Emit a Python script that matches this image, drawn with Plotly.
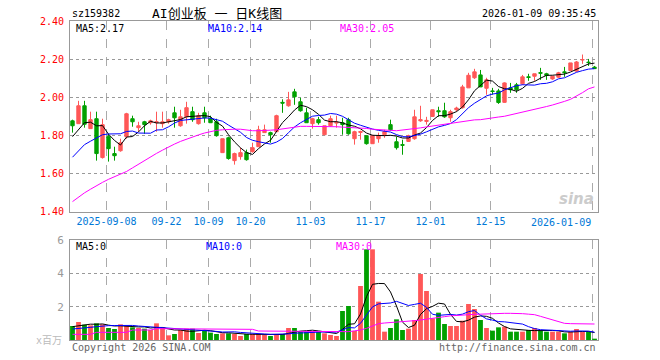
import numpy as np
import pandas as pd
import plotly.graph_objects as go

# ---------------- data ----------------
dates = (["2025-08-29"]
         + ["2025-09-%02d" % d for d in [1, 2, 3, 4, 5, 8, 9, 10, 11, 12, 15, 16, 17, 18, 19,
                                           22, 23, 24, 25, 26, 29, 30]]
         + ["2025-10-%02d" % d for d in [9, 10, 13, 14, 15, 16, 17, 20, 21, 22, 23, 24,
                                           27, 28, 29, 30, 31]]
         + ["2025-11-%02d" % d for d in [3, 4, 5, 6, 7, 10, 11, 12, 13, 14, 17, 18, 19, 20, 21,
                                           24, 25, 26, 27, 28]]
         + ["2025-12-%02d" % d for d in [1, 2, 3, 4, 5, 8, 9, 10, 11, 12, 15, 16, 17, 18, 19,
                                           22, 23, 24, 25, 26, 29, 30, 31]]
         + ["2026-01-%02d" % d for d in [5, 6, 7, 8, 9]])

open_ = [1.876, 1.861, 1.955, 1.835, 1.887, 1.683, 1.793, 1.704, 1.719, 1.793,
         1.887, 1.840, 1.871, 1.866, 1.866, 1.861, 1.871, 1.918, 1.850, 1.897,
         1.924, 1.861, 1.918, 1.887, 1.871, 1.709, 1.787, 1.667, 1.688, 1.709,
         1.714, 1.740, 1.814, 1.814, 1.819, 1.973, 1.955, 2.028, 1.976, 1.918,
         1.861, 1.882, 1.803, 1.850, 1.864, 1.866, 1.882, 1.782, 1.815, 1.798,
         1.756, 1.782, 1.803, 1.856, 1.766, 1.751, 1.768, 1.782, 1.876, 1.873,
         1.899, 1.929, 1.929, 1.892, 1.934, 1.945, 2.049, 2.102, 2.117, 2.047,
         2.033, 2.033, 1.973, 2.049, 2.065, 2.070, 2.107, 2.110, 2.129, 2.123,
         2.096, 2.105, 2.133, 2.140, 2.137, 2.196, 2.184, 2.158]
high = [1.882, 1.981, 1.981, 1.924, 1.924, 1.887, 1.808, 1.740, 1.782, 1.918,
        1.903, 1.871, 1.876, 1.882, 1.924, 1.924, 1.887, 1.950, 1.934, 1.976,
        1.950, 1.918, 1.950, 1.903, 1.887, 1.782, 1.793, 1.709, 1.735, 1.725,
        1.761, 1.850, 1.856, 1.819, 1.908, 1.989, 2.028, 2.044, 1.997, 1.945,
        1.892, 1.897, 1.850, 1.903, 1.903, 1.892, 1.892, 1.824, 1.824, 1.798,
        1.803, 1.814, 1.829, 1.882, 1.793, 1.777, 1.803, 1.934, 1.955, 1.897,
        1.934, 1.950, 1.971, 1.934, 1.950, 2.065, 2.128, 2.149, 2.143, 2.102,
        2.049, 2.044, 2.078, 2.075, 2.075, 2.117, 2.123, 2.123, 2.154, 2.128,
        2.112, 2.133, 2.159, 2.180, 2.190, 2.224, 2.201, 2.164]
low = [1.814, 1.861, 1.840, 1.835, 1.667, 1.678, 1.662, 1.667, 1.714, 1.782,
       1.845, 1.819, 1.808, 1.856, 1.819, 1.840, 1.861, 1.840, 1.845, 1.861,
       1.871, 1.856, 1.866, 1.866, 1.793, 1.709, 1.672, 1.646, 1.672, 1.667,
       1.709, 1.740, 1.814, 1.761, 1.819, 1.918, 1.950, 1.960, 1.924, 1.866,
       1.835, 1.856, 1.803, 1.845, 1.840, 1.803, 1.803, 1.751, 1.777, 1.751,
       1.756, 1.761, 1.787, 1.824, 1.725, 1.698, 1.766, 1.777, 1.871, 1.856,
       1.897, 1.897, 1.892, 1.871, 1.924, 1.940, 2.049, 2.096, 2.054, 2.013,
       2.013, 1.965, 1.971, 2.023, 2.023, 2.065, 2.086, 2.086, 2.091, 2.091,
       2.091, 2.102, 2.107, 2.138, 2.133, 2.175, 2.164, 2.149]
close = [1.850, 1.955, 1.858, 1.882, 1.704, 1.856, 1.730, 1.693, 1.761, 1.913,
         1.871, 1.850, 1.856, 1.876, 1.871, 1.871, 1.882, 1.892, 1.897, 1.945,
         1.882, 1.903, 1.892, 1.866, 1.798, 1.782, 1.678, 1.704, 1.709, 1.672,
         1.735, 1.829, 1.829, 1.803, 1.903, 1.969, 1.986, 2.002, 1.929, 1.866,
         1.887, 1.866, 1.850, 1.887, 1.868, 1.856, 1.808, 1.819, 1.820, 1.756,
         1.798, 1.798, 1.819, 1.829, 1.735, 1.748, 1.798, 1.897, 1.882, 1.878,
         1.934, 1.924, 1.897, 1.924, 1.943, 2.054, 2.115, 2.133, 2.054, 2.091,
         2.030, 1.972, 2.075, 2.039, 2.039, 2.107, 2.104, 2.123, 2.126, 2.114,
         2.110, 2.128, 2.129, 2.180, 2.185, 2.197, 2.182, 2.150]

# volume, millions
volume = [0.84, 1.08, 0.92, 0.88, 1.00, 0.94, 0.72, 0.66, 0.94, 0.84,
          0.76, 0.72, 0.68, 0.60, 1.00, 0.76, 0.28, 0.36, 0.60, 0.68,
          0.68, 0.42, 0.56, 0.44, 0.36, 0.40, 0.40, 0.36, 0.24, 0.36,
          0.36, 0.36, 0.32, 0.24, 0.36, 0.36, 0.72, 0.72, 0.50, 0.50,
          0.50, 0.50, 0.40, 0.30, 0.24, 1.74, 2.04, 0.54, 3.24, 5.44,
          5.44, 2.30, 0.50, 0.72, 1.24, 0.60, 0.68, 1.20, 3.96, 2.94,
          1.30, 1.64, 0.96, 0.84, 0.84, 1.16, 2.16, 1.86, 1.20, 0.72,
          0.56, 0.76, 0.80, 0.50, 0.50, 0.50, 0.60, 0.72, 0.54, 0.50,
          0.50, 0.50, 0.40, 0.50, 0.66, 0.50, 0.50, 0.08]

ma5_lead = [1.793, 1.829, 1.866, 1.869]
ma10_lead = [1.685, 1.717, 1.751, 1.769, 1.788, 1.803, 1.807, 1.808, 1.808]
ma30 = [1.452, 1.476, 1.498, 1.517, 1.536, 1.553, 1.569, 1.583, 1.599, 1.610,
        1.629, 1.649, 1.667, 1.686, 1.705, 1.722, 1.739, 1.754, 1.768, 1.780,
        1.793, 1.802, 1.812, 1.821, 1.826, 1.829, 1.832, 1.832, 1.832, 1.827,
        1.824, 1.824, 1.824, 1.827, 1.829, 1.833, 1.837, 1.843, 1.847, 1.847,
        1.847, 1.847, 1.847, 1.847, 1.845, 1.843, 1.842, 1.841, 1.839, 1.836,
        1.832, 1.829, 1.827, 1.826, 1.824, 1.827, 1.832, 1.835, 1.839, 1.844,
        1.849, 1.855, 1.859, 1.864, 1.870, 1.874, 1.879, 1.881, 1.882, 1.888,
        1.893, 1.896, 1.900, 1.907, 1.913, 1.920, 1.928, 1.935, 1.943, 1.951,
        1.959, 1.967, 1.978, 1.989, 2.005, 2.024, 2.044, 2.054]
vma5_lead = [0.80, 0.85, 0.90, 0.95]
vma10_lead = [0.66, 0.68, 0.72, 0.76, 0.80, 0.84, 0.86, 0.87, 0.88]
vma30 = [0.34] * 4 + [0.46] * 6 + [0.60] * 4 + [0.68] * 13 + [0.64] * 4 + [0.54] * 10 + [0.50] * 4 + \
        [0.50, 0.50, 0.55, 0.60, 0.70, 0.82, 0.98, 1.02, 1.04, 1.06, 1.08, 1.12, 1.16, 1.20,
         1.24, 1.30, 1.35, 1.40, 1.45, 1.48, 1.50, 1.52, 1.54, 1.55, 1.57, 1.58, 1.60, 1.60,
         1.60, 1.60, 1.58, 1.55, 1.52, 1.42, 1.32, 1.20, 1.08, 1.00, 0.98, 0.98, 0.98, 0.98, 0.96]

tick_dates = ["2025-09-08", "09-22", "10-09", "10-20", "11-03", "11-17", "12-01", "12-15", "2026-01-09"]
price_ticks = [1.40, 1.60, 1.80, 2.00, 2.20, 2.40]
vol_ticks = [2, 4, 6]

# ---------------- derived ----------------
n = len(dates)
xi = np.arange(n)
ma5 = pd.Series(close).rolling(5).mean().to_numpy()
ma5[:4] = ma5_lead
ma10 = pd.Series(close).rolling(10).mean().to_numpy()
ma10[:9] = ma10_lead
vma5 = pd.Series(volume).rolling(5).mean().to_numpy()
vma5[:4] = vma5_lead
vma10 = pd.Series(volume).rolling(10).mean().to_numpy()
vma10[:9] = vma10_lead

RED = "#FF5757"
GREEN = "#00A000"
bar_colors = [RED if c >= o else GREEN for o, c in zip(open_, close)]

full_tick = ["2025-" + t if len(t) == 5 else t for t in tick_dates]
tick_idx = [dates.index(d) for d in full_tick]
tick_pos = [i - 1.0 / 3 for i in tick_idx]
tick_text = tick_dates[:-1] + [""]

FONT = "DejaVu Sans Mono, Noto Sans CJK SC"

fig = go.Figure()
fig.add_trace(go.Candlestick(
    x=xi, open=open_, high=high, low=low, close=close,
    increasing=dict(line=dict(color=RED, width=1), fillcolor=RED),
    decreasing=dict(line=dict(color=GREEN, width=1), fillcolor=GREEN),
    whiskerwidth=0, xaxis="x", yaxis="y", showlegend=False, hoverinfo="skip"))
for vals, col in [(ma5, "#000000"), (ma10, "#0000FF"), (ma30, "#FF00FF")]:
    fig.add_trace(go.Scatter(x=xi, y=vals, mode="lines", line=dict(color=col, width=1),
                             xaxis="x", yaxis="y", showlegend=False, hoverinfo="skip"))

fig.add_trace(go.Bar(x=xi, y=volume, marker=dict(color=bar_colors, line=dict(width=0)),
                     width=0.8, xaxis="x2", yaxis="y2", showlegend=False, hoverinfo="skip"))
for vals, col in [(vma5, "#000000"), (vma10, "#0000FF"), (vma30, "#FF00FF")]:
    fig.add_trace(go.Scatter(x=xi, y=vals, mode="lines", line=dict(color=col, width=1),
                             xaxis="x2", yaxis="y2", showlegend=False, hoverinfo="skip"))

xr = [-0.4167, 87.583]
common_x = dict(range=xr, tickmode="array", tickvals=tick_pos, showgrid=True,
                gridcolor="#AAAAAA", griddash="dash", gridwidth=1, zeroline=False,
                showline=True, mirror=True, linecolor="#999999", linewidth=1, ticks="",
                ticklen=0, fixedrange=True)
common_y = dict(showgrid=True, gridcolor="#999999", griddash="dot", gridwidth=1,
                zeroline=False, showline=True, mirror=True, linecolor="#999999", linewidth=1,
                ticks="", ticklen=0, ticklabelstandoff=3, fixedrange=True, automargin=False)
PB = 0.4028
VT = 0.3135
fig.update_layout(
    width=660, height=360, paper_bgcolor="white", plot_bgcolor="white",
    margin=dict(l=70, r=62, t=21, b=20, autoexpand=False),
    font=dict(family=FONT, size=10, color="#000000"),
    boxgap=0.2,
    xaxis=dict(domain=[0, 1], anchor="y", ticktext=tick_text,
               tickfont=dict(color="#0078D7", size=10, family=FONT),
               rangeslider=dict(visible=False), **common_x),
    xaxis2=dict(domain=[0, 1], anchor="y2", showticklabels=False, matches="x", **common_x),
    yaxis=dict(domain=[PB, 1], anchor="x", range=[1.40, 2.40], tickmode="array",
               tickvals=price_ticks, ticktext=["%.2f" % v for v in price_ticks],
               tickfont=dict(color="#FF0000", size=10, family=FONT), **common_y),
    yaxis2=dict(domain=[0, VT], anchor="x2", range=[0, 6], tickmode="array", tickvals=vol_ticks,
                ticktext=[str(v) for v in vol_ticks],
                tickfont=dict(color="#999999", size=11, family=FONT), **common_y),
)

def ann(text, x, y, color="#000000", size=10, xanchor="left", yanchor="middle", xref="paper", **kw):
    fig.add_annotation(text=text, x=x, y=y, xref=xref, yref="paper", showarrow=False,
                       xanchor=xanchor, yanchor=yanchor,
                       font=dict(family=kw.pop("family", FONT), size=size, color=color), **kw)

W = 528.0
H = 319.0
px = lambda X: (X - 70) / W
py = lambda Y: (340 - Y) / H

ann("sz159382", px(70), py(13), size=10)
ann("AI创业板 一 日K线图", px(150), py(13), size=13)
ann("2026-01-09 09:35:45", px(598), py(13), xanchor="right", size=10)
ann("MA5:2.17", px(74), py(28), color="#000000")
ann("MA10:2.14", px(206), py(28), color="#0000FF")
ann("MA30:2.05", px(338), py(28), color="#FF00FF")
ann("2026-01-09", tick_pos[-1], PB, color="#0078D7", xanchor="right", yanchor="top",
    xref="x", yshift=-3)
ann("<i><b>sina</b></i>", px(576), py(199), color="#CCCCCC", size=15, xanchor="center",
    family="DejaVu Sans")
ann("MA5:0", px(74), py(246), color="#000000")
ann("MA10:0", px(204), py(246), color="#0000FF")
ann("MA30:0", px(334), py(246), color="#FF00FF")
ann("x百万", px(64), py(340), color="#BBBBBB", xanchor="right")
ann("Copyright 2026 SINA.COM", px(70), py(347), color="#666666")
ann("http://finance.sina.com.cn", px(598), py(347), color="#666666", xanchor="right")

fig.write_html("out.html", config={"displayModeBar": False, "staticPlot": True},
               post_script="document.body.style.margin='0';")
